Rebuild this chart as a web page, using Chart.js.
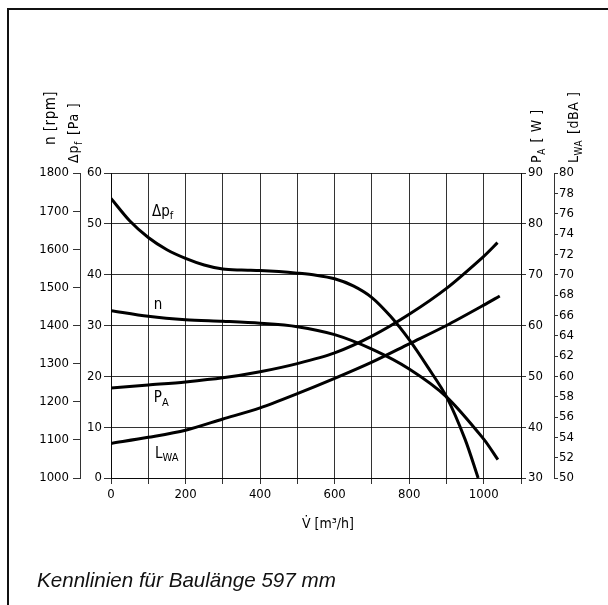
<!DOCTYPE html>
<html>
<head>
<meta charset="utf-8">
<script src="https://cdn.jsdelivr.net/npm/chart.js@4/dist/chart.umd.min.js"></script>
<style>
    html, body { margin: 0; padding: 0; background: #fff; }
    body { width: 608px; height: 605px; position: relative; overflow: hidden; }
    #frame { position: absolute; left: 7px; top: 8px; width: 620px; height: 620px;
        border-top: 2px solid #111; border-left: 2px solid #111; }
    canvas { position: absolute; left: 0; top: 0; }
    .caption { position: absolute; left: 37px; top: 570px; font: italic 20.6px 'Liberation Sans', Arial, sans-serif;
        line-height: 20px; color: #111; white-space: nowrap; }
</style>
</head>
<body>
<div id="frame"></div>
<canvas id="chart" width="608" height="605"></canvas>
<div class="caption">Kennlinien für Baulänge 597 mm</div>
<script>
// values
const dpFlow = [0, 50, 100, 150, 200, 250, 300, 350, 400, 450, 500, 550, 600, 650, 700, 750, 800, 850, 900, 950, 985];
const dpValues = [55, 50.6, 47.3, 44.9, 43.2, 41.9, 41.1, 40.9, 40.8, 40.6, 40.3, 39.9, 39.2, 37.8, 35.5, 31.8, 27.2, 21.8, 16, 7.6, 0];

const nFlow = [0, 100, 200, 300, 400, 500, 600, 700, 800, 900, 1000, 1038];
const nValues = [1439, 1424, 1415, 1411, 1406, 1397, 1376, 1338, 1286, 1213, 1102, 1048];

const paFlow = [0, 100, 200, 300, 400, 500, 600, 700, 800, 900, 1000, 1037];
const paValues = [47.7, 48.3, 48.9, 49.7, 50.9, 52.5, 54.6, 57.9, 62.2, 67.3, 73.6, 76.3];

const lwaFlow = [0, 100, 200, 300, 400, 500, 600, 700, 800, 900, 1000, 1043];
const lwaValues = [53.4, 54.0, 54.7, 55.8, 56.9, 58.3, 59.8, 61.4, 63.2, 65.0, 67.0, 67.9];

const FONT = "'DejaVu Sans Condensed', 'Liberation Sans Narrow', sans-serif";
const GRID = "rgba(0,0,0,0.8)";

function pts(xs, ys) {
    return xs.map((x, i) => ({ x, y: ys[i] }));
}

function curve(xs, ys, axis) {
    return {
        data: pts(xs, ys),
        yAxisID: axis,
        borderColor: "#000",
        borderWidth: 3,
        pointRadius: 0,
        fill: false,
        tension: 0.3
    };
}

// text with subscripts, drawn at the current origin
function drawRich(ctx, parts, size) {
    let x = 0;
    for (const p of parts) {
        ctx.font = `${p.sub ? Math.round(size * 0.7) : size}px ${FONT}`;
        ctx.fillText(p.t, x, p.sub ? size * 0.25 : 0);
        x += ctx.measureText(p.t).width + (p.sub ? 1 : 0);
    }
}

const curveLabels = [
    { parts: [{ t: "Δp" }, { t: "f", sub: true }], x: 110, y: 51.6 },
    { parts: [{ t: "n" }], x: 115, y: 33.2 },
    { parts: [{ t: "P" }, { t: "A", sub: true }], x: 115, y: 15.0 },
    { parts: [{ t: "L" }, { t: "WA", sub: true }], x: 118, y: 4.0 }
];

const textPlugin = {
    id: "texts",
    afterDraw(chart) {
        const ctx = chart.ctx;
        const sx = chart.scales.x, sy = chart.scales.dp;
        const top = chart.chartArea.top;
        ctx.save();
        ctx.fillStyle = "#000";
        ctx.textBaseline = "alphabetic";
        ctx.textAlign = "left";

        // vertical axis titles above the axes
        const titles = [
            { parts: [{ t: "n [rpm]" }], cx: chart.scales.n.left + 20, y: top - 28, size: 15, sp: 0.5 },
            { parts: [{ t: "Δp" }, { t: "f", sub: true }, { t: " [Pa ]" }], cx: chart.scales.dp.left - 7, y: top - 10, size: 14, sp: 0.8 },
            { parts: [{ t: "P" }, { t: "A", sub: true }, { t: " [ W ]" }], cx: chart.scales.pa.left + 15, y: top - 10, size: 14, sp: 0.6 },
            { parts: [{ t: "L" }, { t: "WA", sub: true }, { t: " [dBA ]" }], cx: chart.scales.lwa.left + 19, y: top - 10, size: 14, sp: 0.6 }
        ];
        for (const t of titles) {
            ctx.save();
            ctx.letterSpacing = t.sp + "px";
            ctx.translate(t.cx + t.size * 0.36, t.y);
            ctx.rotate(-Math.PI / 2);
            drawRich(ctx, t.parts, t.size);
            ctx.restore();
        }

        for (const l of curveLabels) {
            ctx.save();
            ctx.translate(sx.getPixelForValue(l.x), sy.getPixelForValue(l.y));
            drawRich(ctx, l.parts, 15);
            ctx.restore();
        }

        ctx.font = `14px ${FONT}`;
        ctx.textAlign = "center";
        ctx.fillText("V\u0307 [m³/h]", (chart.chartArea.left + chart.chartArea.right) / 2 + 12, chart.chartArea.bottom + 50);
        ctx.restore();
    }
};

const tickFont = { family: FONT, size: 13 };
const plain = v => String(v);

new Chart(document.getElementById("chart"), {
    type: "line",
    data: {
        datasets: [
            curve(dpFlow, dpValues, "dp"),
            curve(nFlow, nValues, "n"),
            curve(paFlow, paValues, "pa"),
            curve(lwaFlow, lwaValues, "lwa")
        ]
    },
    plugins: [textPlugin],
    options: {
        responsive: false,
        devicePixelRatio: 1,
        animation: false,
        layout: { padding: { left: 30, right: 24, top: 173, bottom: 100 } },
        plugins: { legend: { display: false }, tooltip: { enabled: false } },
        scales: {
            x: {
                type: "linear",
                min: 0,
                max: 1100,
                afterFit: s => { s.height = 27; },
                grid: { color: GRID, lineWidth: 1, tickLength: 6 },
                border: { color: GRID },
                ticks: {
                    stepSize: 100,
                    autoSkip: false,
                    maxRotation: 0,
                    padding: 3,
                    color: "#000",
                    font: tickFont,
                    callback: v => (v % 200 === 0 && v <= 1000) ? String(v) : ""
                }
            },
            n: {
                position: "left",
                weight: 1,
                min: 1000,
                max: 1800,
                afterFit: s => { s.width = 50; },
                grid: { drawOnChartArea: false, color: GRID, tickLength: 7 },
                border: { color: GRID },
                ticks: { stepSize: 100, padding: 4, color: "#000", font: tickFont, callback: plain }
            },
            dp: {
                position: "left",
                weight: 0,
                min: 0,
                max: 60,
                afterFit: s => { s.width = 31; },
                grid: { color: GRID, lineWidth: 1, tickLength: 7 },
                border: { color: GRID },
                ticks: { stepSize: 10, padding: 2, color: "#000", font: tickFont, callback: plain }
            },
            pa: {
                position: "right",
                weight: 0,
                min: 30,
                max: 90,
                afterFit: s => { s.width = 33; },
                grid: { drawOnChartArea: false, color: GRID, tickLength: 5 },
                border: { color: GRID },
                ticks: { stepSize: 10, padding: 2, color: "#000", font: tickFont, callback: plain }
            },
            lwa: {
                position: "right",
                weight: 1,
                min: 50,
                max: 80,
                afterFit: s => { s.width = 30; },
                grid: { drawOnChartArea: false, color: GRID, tickLength: 4 },
                border: { color: GRID },
                ticks: { stepSize: 2, padding: 1, color: "#000", font: tickFont, callback: plain }
            }
        }
    }
});
</script>
</body>
</html>
